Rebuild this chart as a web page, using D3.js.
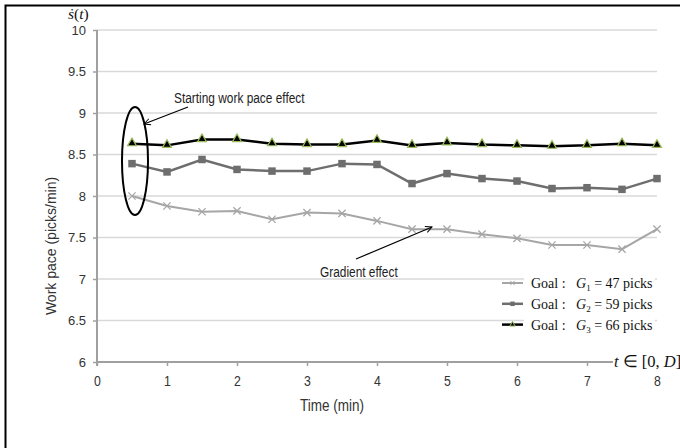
<!DOCTYPE html>
<html>
<head>
<meta charset="utf-8">
<script src="https://cdn.jsdelivr.net/npm/d3@7"></script>
<style>
  html, body { margin: 0; padding: 0; background: #fff; }
  svg { display: block; }
  .sans { font-family: "Liberation Sans", Arial, sans-serif; }
  .serif { font-family: "Liberation Serif", "Times New Roman", serif; }
</style>
</head>
<body>
<svg id="chart" width="680" height="448"></svg>
<script>
// Time points (minutes)
const times = [0.5, 1, 1.5, 2, 2.5, 3, 3.5, 4, 4.5, 5, 5.5, 6, 6.5, 7, 7.5, 8];
// Work pace (picks/min) for each goal
const goal1 = [8.00, 7.88, 7.81, 7.82, 7.72, 7.80, 7.79, 7.70, 7.60, 7.60, 7.54, 7.49, 7.41, 7.41, 7.36, 7.60];
const goal2 = [8.39, 8.29, 8.44, 8.32, 8.30, 8.30, 8.39, 8.38, 8.15, 8.27, 8.21, 8.18, 8.09, 8.10, 8.08, 8.21];
const goal3 = [8.63, 8.61, 8.68, 8.68, 8.63, 8.62, 8.62, 8.67, 8.61, 8.64, 8.62, 8.61, 8.60, 8.61, 8.63, 8.61];
const goalSub = ["1", "2", "3"];
const goalPicks = [47, 59, 66];
const xTicks = [0, 1, 2, 3, 4, 5, 6, 7, 8];
const yTicks = [6, 6.5, 7, 7.5, 8, 8.5, 9, 9.5, 10];

const NARROW = 0.82; // horizontal squeeze giving a condensed sans look

const svg = d3.select("#chart");

// outer frame (top and left edges)
svg.append("path").attr("d", "M5.5,448 L5.5,5.5 L680,5.5")
  .attr("fill", "none").attr("stroke", "#000").attr("stroke-width", 2);

const x = d3.scaleLinear().domain([0, 8]).range([97, 657]);
const y = d3.scaleLinear().domain([6, 10]).range([362, 30]);

// horizontal gridlines
svg.append("g").selectAll("line").data(yTicks.filter(v => v > 6)).join("line")
  .attr("x1", x(0)).attr("x2", x(8))
  .attr("y1", d => y(d)).attr("y2", d => y(d))
  .attr("stroke", "#d9d9d9").attr("stroke-width", 1.5);

// y axis
const yAxis = svg.append("g").attr("transform", `translate(${x(0)},0)`)
  .call(d3.axisLeft(y).tickValues(yTicks).tickFormat(d3.format("")).tickSize(4).tickPadding(7));
yAxis.select(".domain").attr("stroke", "#a0a0a0").attr("stroke-width", 2)
  .attr("d", `M0,${y(10)}V${y(6) + 4}`);
yAxis.selectAll(".tick line").attr("stroke", "#a0a0a0").attr("stroke-width", 1.5);
yAxis.selectAll(".tick text").attr("class", "sans").attr("font-size", 13).attr("fill", "#333");

// x axis
const xAxis = svg.append("g").attr("transform", `translate(0,${y(6)})`)
  .call(d3.axisBottom(x).tickValues(xTicks).tickFormat(d3.format("d")).tickSize(4).tickPadding(9));
xAxis.select(".domain").attr("stroke", "#a0a0a0").attr("stroke-width", 2)
  .attr("d", `M${x(0)},0H${x(8)}`);
xAxis.selectAll(".tick line").attr("stroke", "#a0a0a0").attr("stroke-width", 1.5);
xAxis.selectAll(".tick text").attr("class", "sans").attr("font-size", 15).attr("fill", "#333")
  .attr("transform", `scale(${NARROW},1)`);

// condensed text helper: anchored at (px, py), squeezed horizontally
function narrowText(px, py, str, size, anchor) {
  return svg.append("g").attr("transform", `translate(${px},${py}) scale(${NARROW},1)`)
    .append("text").attr("class", "sans").attr("text-anchor", anchor || "start")
    .attr("dominant-baseline", "middle").attr("font-size", size).attr("fill", "#222").text(str);
}

// axis titles
svg.append("text").attr("class", "sans")
  .attr("transform", `translate(52,246) rotate(-90)`)
  .attr("text-anchor", "middle").attr("dominant-baseline", "middle")
  .attr("font-size", 14).attr("fill", "#333").text("Work pace (picks/min)");
narrowText(332, 407, "Time (min)", 16.5, "middle").attr("fill", "#333");

// ṡ(t) label above the y axis
const sdot = svg.append("text").attr("class", "serif").attr("x", 68).attr("y", 19)
  .attr("font-size", 15.5).attr("fill", "#111");
sdot.append("tspan").attr("font-style", "italic").text("ṡ");
sdot.append("tspan").text("(");
sdot.append("tspan").attr("font-style", "italic").text("t");
sdot.append("tspan").text(")");

// t ∈ [0, D] at the end of the x axis
svg.append("rect").attr("x", 613).attr("y", 352).attr("width", 67).attr("height", 20).attr("fill", "#fff");
const tlab = svg.append("text").attr("class", "serif").attr("x", 614).attr("y", 367)
  .attr("font-size", 16.5).attr("fill", "#111");
tlab.append("tspan").attr("font-style", "italic").text("t");
tlab.append("tspan").text(" ∈ [0, ");
tlab.append("tspan").attr("font-style", "italic").text("D");
tlab.append("tspan").text("]");

// series lines
const line = vals => d3.line().x((d, i) => x(times[i])).y(d => y(d))(vals);

svg.append("path").attr("d", line(goal1)).attr("fill", "none")
  .attr("stroke", "#a6a6a6").attr("stroke-width", 2);
svg.append("path").attr("d", line(goal2)).attr("fill", "none")
  .attr("stroke", "#6e6e6e").attr("stroke-width", 2.5);
svg.append("path").attr("d", line(goal3)).attr("fill", "none")
  .attr("stroke", "#000").attr("stroke-width", 2.5);

const crossSym = d3.symbol().type(d3.symbolTimes).size(36);
const squareSym = d3.symbol().type(d3.symbolSquare).size(56);
const triSym = d3.symbol().type(d3.symbolTriangle).size(34);

svg.append("g").selectAll("path").data(goal1).join("path")
  .attr("transform", (d, i) => `translate(${x(times[i])},${y(d)})`)
  .attr("d", crossSym).attr("fill", "none").attr("stroke", "#a6a6a6").attr("stroke-width", 1.3);
svg.append("g").selectAll("path").data(goal2).join("path")
  .attr("transform", (d, i) => `translate(${x(times[i])},${y(d)})`)
  .attr("d", squareSym).attr("fill", "#6e6e6e");
svg.append("g").selectAll("path").data(goal3).join("path")
  .attr("transform", (d, i) => `translate(${x(times[i])},${y(d) - 0.5})`)
  .attr("d", triSym).attr("fill", "#000").attr("stroke", "#9bbb59").attr("stroke-width", 1.2);

// annotations
const defs = svg.append("defs");
defs.append("marker").attr("id", "arrow").attr("viewBox", "0 0 10 10")
  .attr("refX", 9).attr("refY", 5).attr("markerWidth", 8).attr("markerHeight", 8)
  .attr("orient", "auto").attr("markerUnits", "userSpaceOnUse")
  .append("path").attr("d", "M1,1 L9,5 L1,9").attr("fill", "none").attr("stroke", "#000").attr("stroke-width", 1.2);

svg.append("ellipse").attr("cx", 135).attr("cy", 161).attr("rx", 13).attr("ry", 54)
  .attr("fill", "none").attr("stroke", "#000").attr("stroke-width", 2);

narrowText(174, 99, "Starting work pace effect", 14.5);
svg.append("line").attr("x1", 188).attr("y1", 107).attr("x2", 144).attr("y2", 124)
  .attr("stroke", "#000").attr("stroke-width", 1.2).attr("marker-end", "url(#arrow)");

narrowText(320, 273, "Gradient effect", 14.5);
svg.append("line").attr("x1", 356).attr("y1", 259).attr("x2", 432).attr("y2", 227)
  .attr("stroke", "#000").attr("stroke-width", 1.2).attr("marker-end", "url(#arrow)");

// legend
const legend = svg.append("g");
legend.append("rect").attr("x", 524).attr("y", 270).attr("width", 131).attr("height", 66).attr("fill", "#fff");
const legRows = [
  { color: "#a6a6a6", sym: d3.symbol().type(d3.symbolTimes).size(14), w: 2, fill: "none", stroke: "#a6a6a6" },
  { color: "#6e6e6e", sym: d3.symbol().type(d3.symbolSquare).size(20), w: 2.5, fill: "#6e6e6e", stroke: "none" },
  { color: "#000", sym: d3.symbol().type(d3.symbolTriangle).size(12), w: 2.5, fill: "#000", stroke: "#9bbb59" }
];
legRows.forEach((r, i) => {
  const ly = 283 + i * 20.8;
  legend.append("line").attr("x1", 502).attr("x2", 523).attr("y1", ly).attr("y2", ly)
    .attr("stroke", r.color).attr("stroke-width", r.w);
  legend.append("path").attr("transform", `translate(512.5,${ly})`).attr("d", r.sym())
    .attr("fill", r.fill).attr("stroke", r.stroke).attr("stroke-width", 1);
  legend.append("text").attr("class", "serif").attr("x", 531).attr("y", ly + 5)
    .attr("font-size", 14).attr("fill", "#111").text("Goal :");
  const t2 = legend.append("text").attr("class", "serif").attr("x", 576).attr("y", ly + 5)
    .attr("font-size", 14).attr("fill", "#111");
  t2.append("tspan").attr("font-style", "italic").text("G");
  t2.append("tspan").attr("font-size", 9).attr("dy", 3).text(goalSub[i]);
  t2.append("tspan").attr("dy", -3).text(` = ${goalPicks[i]} picks`);
});
</script>
</body>
</html>
